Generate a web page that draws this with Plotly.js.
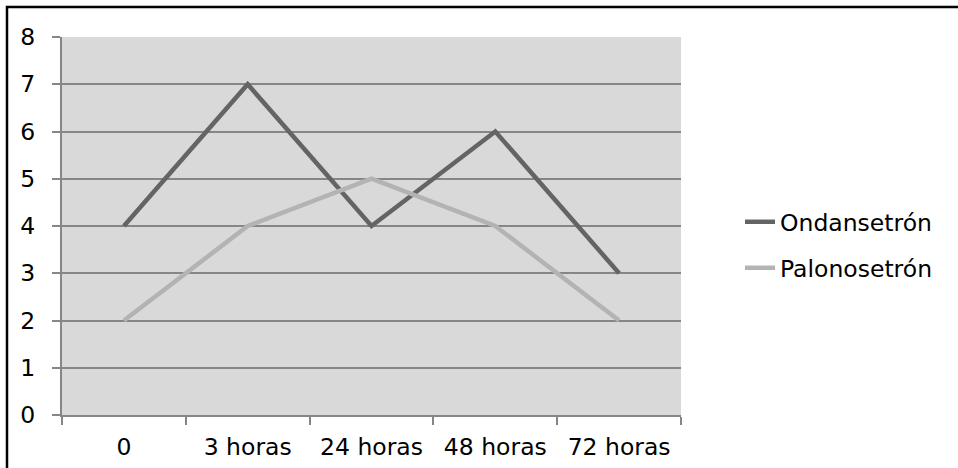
<!DOCTYPE html>
<html>
<head>
<meta charset="utf-8">
<script src="https://cdn.plot.ly/plotly-3.0.1.min.js"></script>
<style>html,body{margin:0;padding:0;background:#fff;}#chart{width:958px;height:468px;}</style>
</head>
<body>
<div id="chart"></div>
<script>
const categories = ["0", "3 horas", "24 horas", "48 horas", "72 horas"];
const ondansetron = [4, 7, 4, 6, 3];
const palonosetron = [2, 4, 5, 4, 2];
const seriesNames = ["Ondansetrón", "Palonosetrón"];
const yTicks = [0, 1, 2, 3, 4, 5, 6, 7, 8];

const FONT = "DejaVu Sans, Arial, sans-serif";
const FS = 23.5;
const L = 62, R = 681, T = 37, B = 415, W = 958, H = 468;
const pw = R - L, ph = B - T;
const px = v => (v - L) / pw;
const py = v => (B - v) / ph;

const traces = [
  {x: categories, y: ondansetron, name: seriesNames[0], type: "scatter", mode: "lines",
   line: {color: "#646464", width: 4.5}, legend: "legend", hoverinfo: "skip"},
  {x: categories, y: palonosetron, name: seriesNames[1], type: "scatter", mode: "lines",
   line: {color: "#b3b3b3", width: 4.5}, legend: "legend2", hoverinfo: "skip"}
];

const legendBase = {
  xanchor: "left", yanchor: "middle", bgcolor: "rgba(0,0,0,0)", borderwidth: 0,
  font: {family: FONT, size: FS, color: "#000"}
};

const layout = {
  width: W, height: H,
  margin: {l: L, r: W - R, t: T, b: H - B, pad: 0},
  paper_bgcolor: "#ffffff",
  plot_bgcolor: "#d9d9d9",
  font: {family: FONT, size: FS, color: "#000"},
  showlegend: true,
  legend: Object.assign({}, legendBase, {x: px(740), y: py(222)}),
  legend2: Object.assign({}, legendBase, {x: px(740), y: py(268)}),
  xaxis: {
    type: "category", categoryorder: "array", categoryarray: categories,
    range: [-0.5, categories.length - 0.5],
    showgrid: false, zeroline: false,
    showline: true, linecolor: "#868686", linewidth: 2,
    ticks: "outside", tickson: "boundaries", ticklen: 8, tickwidth: 2, tickcolor: "#868686",
    ticklabelstandoff: 10,
    tickfont: {family: FONT, size: FS, color: "#000"},
    fixedrange: true
  },
  yaxis: {
    range: [0, 8], tickvals: yTicks, ticktext: yTicks.map(String),
    showgrid: true, gridcolor: "#868686", gridwidth: 2,
    zeroline: false,
    showline: true, linecolor: "#868686", linewidth: 2,
    ticks: "outside", ticklen: 8, tickwidth: 2, tickcolor: "#868686",
    ticklabelstandoff: 12,
    tickfont: {family: FONT, size: FS, color: "#000"},
    fixedrange: true
  },
  shapes: [
    {type: "rect", xref: "paper", yref: "paper",
     x0: px(7), x1: px(1000), y0: py(520), y1: py(7),
     line: {color: "#000", width: 2.5}, fillcolor: "rgba(0,0,0,0)", layer: "above"}
  ]
};

Plotly.newPlot("chart", traces, layout, {displayModeBar: false, staticPlot: true});
</script>
</body>
</html>
